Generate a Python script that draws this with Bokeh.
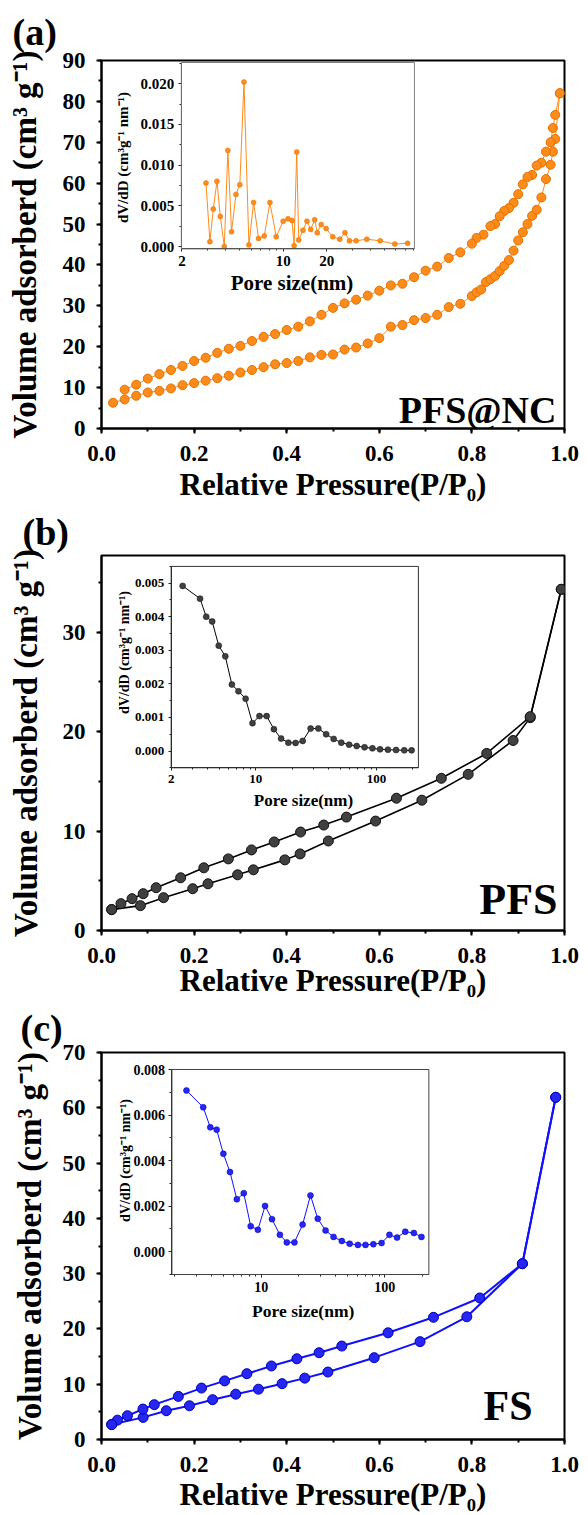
import math
from bokeh.plotting import figure
from bokeh.layouts import column
from bokeh.models import (Range1d, LogScale, LogAxis, LinearAxis, SingleIntervalTicker,
                          FixedTicker, PrintfTickFormatter, BoxAnnotation, Label)
from bokeh.embed import file_html
from bokeh.resources import INLINE

FONT = "Liberation Serif"

# ---------------- data: (a) PFS@NC ----------------
pfsnc_ads_p = [0.025, 0.05, 0.075, 0.10, 0.125, 0.15, 0.175, 0.20, 0.225, 0.25, 0.275, 0.30,
               0.325, 0.35, 0.375, 0.40, 0.425, 0.45, 0.475, 0.50, 0.525, 0.55, 0.575, 0.60,
               0.625, 0.65, 0.675, 0.70, 0.725, 0.75, 0.775, 0.80, 0.81, 0.82, 0.83, 0.84,
               0.85, 0.86, 0.87, 0.88, 0.89, 0.90, 0.91, 0.92, 0.93, 0.94, 0.95, 0.96, 0.97,
               0.975, 0.98, 0.99]
pfsnc_ads_v = [6.3, 7.1, 8.0, 8.8, 9.2, 9.8, 10.6, 11.1, 11.7, 12.3, 12.9, 13.7,
               14.3, 15.0, 15.7, 16.0, 16.5, 17.4, 18.0, 18.1, 19.3, 19.8, 20.8, 22.1,
               24.9, 25.3, 26.5, 27.0, 27.8, 29.7, 30.5, 32.4, 33.3, 34.0, 35.8, 36.5,
               37.3, 38.5, 39.8, 41.2, 43.5, 46.0, 48.0, 50.0, 52.0, 53.5, 56.5, 61.0, 64.5,
               67.7, 70.8, 82.0]
pfsnc_des_p = [0.99, 0.98, 0.975, 0.97, 0.96, 0.95, 0.94, 0.93, 0.92, 0.91, 0.90, 0.89,
               0.88, 0.87, 0.86, 0.85, 0.84, 0.825, 0.81, 0.80, 0.775, 0.75, 0.725, 0.70,
               0.675, 0.65, 0.625, 0.60, 0.575, 0.55, 0.525, 0.50, 0.475, 0.45, 0.425, 0.40,
               0.375, 0.35, 0.325, 0.30, 0.275, 0.25, 0.225, 0.20, 0.175, 0.15, 0.125, 0.10,
               0.075, 0.05]
pfsnc_des_v = [82.0, 76.7, 73.5, 70.0, 67.7, 65.0, 64.3, 62.0, 61.5, 59.7, 57.3, 55.2,
               53.9, 53.2, 51.9, 50.0, 49.5, 47.4, 46.6, 45.2, 43.1, 41.7, 39.6, 38.6,
               37.0, 35.4, 35.0, 33.7, 32.5, 31.5, 30.6, 29.5, 27.8, 26.2, 24.9, 24.1,
               23.1, 22.4, 21.4, 20.2, 19.5, 18.5, 17.3, 16.5, 15.3, 14.3, 13.3, 12.2,
               10.7, 9.5]
pfsnc_pore_d = [2.93, 3.12, 3.29, 3.49, 3.68, 3.92, 4.15, 4.40, 4.72, 5.02, 5.36, 5.80,
                6.25, 6.76, 7.40, 8.10, 8.95, 10.0, 10.8, 11.5, 11.9, 12.4, 12.8, 13.7,
                14.6, 15.5, 16.5, 17.2, 18.3, 19.8, 22.0, 24.6, 26.7, 28.7, 31.9, 37.8,
                46.8, 59.0, 72.3]
pfsnc_pore_dv = [0.0078, 0.0006, 0.0046, 0.0080, 0.0037, 0.0000, 0.0118, 0.0018, 0.0064,
                 0.0076, 0.0202, 0.0002, 0.0054, 0.0010, 0.0013, 0.0054, 0.0012, 0.0031,
                 0.0034, 0.0032, 0.0001, 0.0116, 0.0008, 0.0020, 0.0031, 0.0021, 0.0033,
                 0.0017, 0.0027, 0.0022, 0.0012, 0.0009, 0.0017, 0.0007, 0.0007, 0.0009,
                 0.0007, 0.0003, 0.0004]

# ---------------- data: (b) PFS ----------------
pfs_ads_p = [0.022, 0.084, 0.134, 0.197, 0.230, 0.294, 0.328, 0.396, 0.429, 0.490,
             0.592, 0.692, 0.792, 0.889, 0.926, 0.993]
pfs_ads_v = [2.1, 2.5, 3.3, 4.2, 4.7, 5.6, 6.1, 7.1, 7.7, 9.0, 11.0, 13.1, 15.7, 19.1,
             21.4, 34.3]
pfs_des_p = [0.993, 0.926, 0.832, 0.734, 0.637, 0.529, 0.480, 0.430, 0.373, 0.324,
             0.274, 0.221, 0.171, 0.118, 0.090, 0.066, 0.042, 0.022]
pfs_des_v = [34.3, 21.5, 17.8, 15.3, 13.3, 11.4, 10.6, 9.9, 8.9, 8.1, 7.2, 6.3, 5.3,
             4.3, 3.7, 3.2, 2.7, 2.1]
pfs_pore_d = [2.49, 3.47, 3.90, 4.37, 4.95, 5.61, 6.36, 7.21, 8.26, 9.42, 10.75, 12.33,
              14.16, 16.24, 18.66, 21.4, 24.5, 28.5, 33.0, 38.3, 44.2, 51.1, 59.3, 68.5,
              79.6, 92.5, 106.9, 124.2, 145.1, 169.6, 195.0]
pfs_pore_dv = [0.00492, 0.00454, 0.00400, 0.00386, 0.00314, 0.00282, 0.00198, 0.00178,
               0.00156, 0.00083, 0.00104, 0.00104, 0.00065, 0.00037, 0.00025, 0.00024,
               0.00030, 0.00067, 0.00067, 0.00050, 0.00036, 0.00025, 0.00019, 0.00015,
               0.00011, 0.00008, 0.00005, 0.00004, 0.00003, 0.00002, 0.00002]

# ---------------- data: (c) FS ----------------
fs_ads_p = [0.022, 0.090, 0.140, 0.190, 0.240, 0.290, 0.339, 0.390, 0.439, 0.489,
            0.589, 0.688, 0.789, 0.909, 0.981]
fs_ads_v = [2.7, 4.0, 5.2, 6.1, 7.2, 8.2, 9.1, 10.1, 11.1, 12.2, 14.8, 17.7, 22.2,
            31.8, 61.9]
fs_des_p = [0.981, 0.909, 0.817, 0.717, 0.619, 0.519, 0.470, 0.422, 0.367, 0.314,
            0.266, 0.216, 0.166, 0.114, 0.0895, 0.056, 0.0345, 0.022]
fs_des_v = [61.9, 31.8, 25.6, 22.1, 19.3, 16.9, 15.7, 14.6, 13.3, 11.9, 10.6, 9.3,
            7.8, 6.3, 5.5, 4.3, 3.5, 2.7]
fs_pore_d = [2.49, 3.40, 3.88, 4.37, 4.95, 5.60, 6.36, 7.24, 8.23, 9.41, 10.76, 12.24,
             14.18, 16.13, 18.58, 21.64, 25.06, 28.7, 33.2, 38.5, 44.9, 52.0, 60.6, 69.8,
             80.8, 94.1, 109.0, 125.6, 146.3, 171.7, 197.8]
fs_pore_dv = [0.00708, 0.00634, 0.00546, 0.00536, 0.00430, 0.00350, 0.00230, 0.00257,
              0.00112, 0.00096, 0.00201, 0.00143, 0.00074, 0.00041, 0.00041, 0.00119,
              0.00247, 0.00145, 0.00093, 0.00065, 0.00047, 0.00035, 0.00030, 0.00030,
              0.00033, 0.00038, 0.00074, 0.00062, 0.00088, 0.00082, 0.00065]

# ---------------- ticks / labels ----------------
pfsnc_inset_ticks = [2, 10, 20]
pfsnc_inset_minor = [3, 4, 5, 6, 7, 8, 9, 30, 40, 50, 60, 70, 80]
pfs_inset_ticks = [2, 10, 100]
pfs_inset_minor = [3, 4, 5, 6, 7, 8, 9, 20, 30, 40, 50, 60, 70, 80, 90, 200]
fs_inset_ticks = [10, 100]
fs_inset_minor = [2, 3, 4, 5, 6, 7, 8, 9, 20, 30, 40, 50, 60, 70, 80, 90, 200]

X_TITLE = "Relative Pressure(P/P\u2080)"
Y_TITLE = "Volume adsorberd (cm\u00b3 g\u207b\u00b9)"
INSET_Y_TITLE = "dV/dD (cm\u00b3g\u207b\u00b9 nm\u207b\u00b9)"
INSET_X_TITLE = "Pore size(nm)"

W = 588


def add_text(p, fl, fb, text, px, py, size, angle=0.0, align="left", baseline="alphabetic"):
    p.add_layout(Label(x=px - fl, y=fb - py, x_units="screen", y_units="screen",
                       text=text, angle=angle, text_font=FONT, text_font_style="bold",
                       text_font_size=f"{size}px", text_align=align,
                       text_baseline=baseline, text_color="black"))


def panel(cfg):
    top = cfg["fig_top"]
    H = cfg["height"]
    fl, fr, ft, fb = cfg["frame"]
    p = figure(width=W, height=H, x_range=Range1d(0, 1), y_range=Range1d(0, cfg["ymax"]),
               output_backend="svg", toolbar_location=None,
               min_border_left=fl, min_border_right=W - fr,
               min_border_top=ft - top, min_border_bottom=top + H - fb)
    p.xgrid.visible = False
    p.ygrid.visible = False
    p.outline_line_color = "black"
    p.outline_line_width = 2
    p.outline_line_alpha = 1.0
    p.background_fill_color = "white"
    p.border_fill_color = "white"

    # panel tag as the plot title
    p.title.text = cfg["tag"]
    p.title.align = "left"
    p.title.offset = cfg["tag_offset"]
    p.title.standoff = cfg["tag_standoff"]
    p.title.text_font = FONT
    p.title.text_font_style = "bold"
    p.title.text_font_size = "38px"
    p.title.text_color = "black"

    xa = p.xaxis[0]
    ya = p.yaxis[0]
    xa.ticker = SingleIntervalTicker(interval=0.2, num_minor_ticks=2)
    xa.formatter = PrintfTickFormatter(format="%.1f")
    ya.ticker = SingleIntervalTicker(interval=10, num_minor_ticks=2)
    ya.formatter = PrintfTickFormatter(format="%d")
    for ax in (xa, ya):
        ax.axis_line_width = 2
        ax.axis_line_color = "black"
        ax.major_tick_line_width = 2
        ax.minor_tick_line_width = 2
        ax.major_tick_line_color = "black"
        ax.minor_tick_line_color = "black"
        ax.major_tick_in = 0
        ax.major_tick_out = 5
        ax.minor_tick_in = 0
        ax.minor_tick_out = 3
        ax.major_label_text_font = FONT
        ax.major_label_text_font_style = "bold"
        ax.major_label_text_font_size = "23px"
        ax.major_label_text_color = "black"
        ax.axis_label_text_font = FONT
        ax.axis_label_text_font_style = "bold"
        ax.axis_label_text_color = "black"
    xa.axis_label_text_font_size = "31px"
    ya.axis_label_text_font_size = "33px"
    xa.major_label_standoff = 12
    ya.major_label_standoff = 11
    xa.axis_label = X_TITLE
    ya.axis_label = Y_TITLE
    xa.axis_label_standoff = cfg["xt_standoff"]
    ya.axis_label_standoff = cfg["yt_standoff"]

    col = cfg["color"]
    p.line(cfg["ads_p"], cfg["ads_v"], line_color=col["line"], line_width=col["lw"])
    p.line(cfg["des_p"], cfg["des_v"], line_color=col["line"], line_width=col["lw"])
    p.scatter(cfg["ads_p"], cfg["ads_v"], size=col["ms"], fill_color=col["fill"],
              line_color=col["edge"], line_width=1)
    p.scatter(cfg["des_p"], cfg["des_v"], size=col["ms"], fill_color=col["fill"],
              line_color=col["edge"], line_width=1)

    # ----- inset in its own log/linear ranges -----
    il, ir, it, ib = cfg["inset"]
    fw = fr - fl
    fh = fb - ft
    fx0 = (il - fl) / fw
    fx1 = (ir - fl) / fw
    fy0 = (fb - ib) / fh
    fy1 = (fb - it) / fh
    x0, x1 = cfg["ix"]
    y0, y1 = cfg["iy"]
    L0, L1 = math.log10(x0), math.log10(x1)
    dpf = (L1 - L0) / (fx1 - fx0)
    vpf = (y1 - y0) / (fy1 - fy0)
    p.extra_x_ranges = {"ix": Range1d(10 ** (L0 - fx0 * dpf), 10 ** (L1 + (1 - fx1) * dpf))}
    p.extra_x_scales = {"ix": LogScale()}
    p.extra_y_ranges = {"iy": Range1d(y0 - fy0 * vpf, y1 + (1 - fy1) * vpf)}

    p.add_layout(BoxAnnotation(left=x0, right=x1, bottom=y0, top=y1,
                               x_range_name="ix", y_range_name="iy",
                               fill_color="white", fill_alpha=0.0,
                               line_color=cfg["inset_frame"], line_width=1, line_alpha=1.0))

    p.line(cfg["pore_d"], cfg["pore_dv"], x_range_name="ix", y_range_name="iy",
           line_color=col["line"], line_width=1)
    p.scatter(cfg["pore_d"], cfg["pore_dv"], x_range_name="ix", y_range_name="iy",
              size=col["ims"], fill_color=col["fill"], line_color=col["edge"], line_width=0.5)

    isz = cfg["inset_tick_size"]
    ixa = LogAxis(x_range_name="ix", y_range_name="iy", fixed_location=y0, bounds=(x0, x1),
                  ticker=FixedTicker(ticks=cfg["ixticks"], minor_ticks=cfg["ixminor"]),
                  formatter=PrintfTickFormatter(format="%d"))
    iya = LinearAxis(x_range_name="ix", y_range_name="iy", fixed_location=x0, bounds=(y0, y1),
                     ticker=SingleIntervalTicker(interval=cfg["iyint"], num_minor_ticks=2),
                     formatter=PrintfTickFormatter(format="%.3f"))
    for ax in (ixa, iya):
        ax.axis_line_width = 1
        ax.axis_line_color = "#222222"
        ax.major_tick_line_color = "#222222"
        ax.minor_tick_line_color = "#222222"
        ax.major_tick_line_width = 1
        ax.minor_tick_line_width = 1
        ax.major_tick_in = 0
        ax.major_tick_out = 3
        ax.minor_tick_in = 0
        ax.minor_tick_out = 2
        ax.major_label_text_font = FONT
        ax.major_label_text_font_style = "bold"
        ax.major_label_text_font_size = f"{isz}px"
        ax.major_label_text_color = "black"
    ixa.major_label_standoff = 4
    iya.major_label_standoff = 4
    p.add_layout(ixa, "below")
    p.add_layout(iya, "left")

    # ----- texts inside the frame -----
    t = cfg["texts"]
    add_text(p, fl, fb, cfg["name"], t["name"][0], t["name"][1], t["name"][2], align="right")
    add_text(p, fl, fb, INSET_X_TITLE, t["ixt"][0], t["ixt"][1], t["ixt"][2], align="center")
    add_text(p, fl, fb, INSET_Y_TITLE, t["iyt"][0], t["iyt"][1], t["iyt"][2],
             angle=math.pi / 2, align="center", baseline="middle")
    return p


orange = dict(line="#FF8A1C", fill="#FF8C1A", edge="#E07200", lw=1, ms=9, ims=5)
black = dict(line="#000000", fill="#404040", edge="#111111", lw=1.6, ms=10, ims=6)
blue = dict(line="#1010FF", fill="#2626F5", edge="#0000B0", lw=2, ms=10, ims=6)

cfg_a = dict(fig_top=0, height=504, frame=(100, 564, 60, 431), ymax=90,
             ads_p=pfsnc_ads_p, ads_v=pfsnc_ads_v, des_p=pfsnc_des_p, des_v=pfsnc_des_v,
             pore_d=pfsnc_pore_d, pore_dv=pfsnc_pore_dv, color=orange,
             inset=(180, 413.6, 62, 250), ix=(1.98, 80.6), iy=(-0.0003, 0.0226),
             ixticks=pfsnc_inset_ticks, ixminor=pfsnc_inset_minor, iyint=0.005,
             inset_frame="#808080", inset_tick_size=15,
             tag="(a)", tag_offset=-89, tag_standoff=15, xt_standoff=3, yt_standoff=17,
             name="PFS@NC",
             texts=dict(name=(555, 412, 38), ixt=(290.5, 285, 21), iyt=(121, 160, 15)))

cfg_b = dict(fig_top=504, height=496, frame=(101, 571, 555, 933), ymax=37.7,
             ads_p=pfs_ads_p, ads_v=pfs_ads_v, des_p=pfs_des_p, des_v=pfs_des_v,
             pore_d=pfs_pore_d, pore_dv=pfs_pore_dv, color=black,
             inset=(171.7, 422.7, 566, 769), ix=(2.0, 222.0), iy=(-0.0005, 0.0055),
             ixticks=pfs_inset_ticks, ixminor=pfs_inset_minor, iyint=0.001,
             inset_frame="#333333", inset_tick_size=13,
             tag="(b)", tag_offset=-79, tag_standoff=5, xt_standoff=-3, yt_standoff=16,
             name="PFS",
             texts=dict(name=(557, 902, 44), ixt=(303, 803, 17), iyt=(123.5, 655, 14)))

cfg_c = dict(fig_top=1000, height=515, frame=(101, 571, 1052, 1439), ymax=70,
             ads_p=fs_ads_p, ads_v=fs_ads_v, des_p=fs_des_p, des_v=fs_des_v,
             pore_d=fs_pore_d, pore_dv=fs_pore_dv, color=blue,
             inset=(172.5, 433.3, 1069, 1274), ix=(1.9, 227.0), iy=(-0.001, 0.008),
             ixticks=fs_inset_ticks, ixminor=fs_inset_minor, iyint=0.002,
             inset_frame="#444444", inset_tick_size=14,
             tag="(c)", tag_offset=-81, tag_standoff=8, xt_standoff=2, yt_standoff=12,
             name="FS",
             texts=dict(name=(532, 1405, 42), ixt=(302.7, 1310.7, 17.5), iyt=(125, 1160, 14)))

pa = panel(cfg_a)
pb = panel(cfg_b)
pc = panel(cfg_c)

layout = column(pa, pb, pc, spacing=0)
open("out.html", "w").write(file_html(layout, INLINE))
